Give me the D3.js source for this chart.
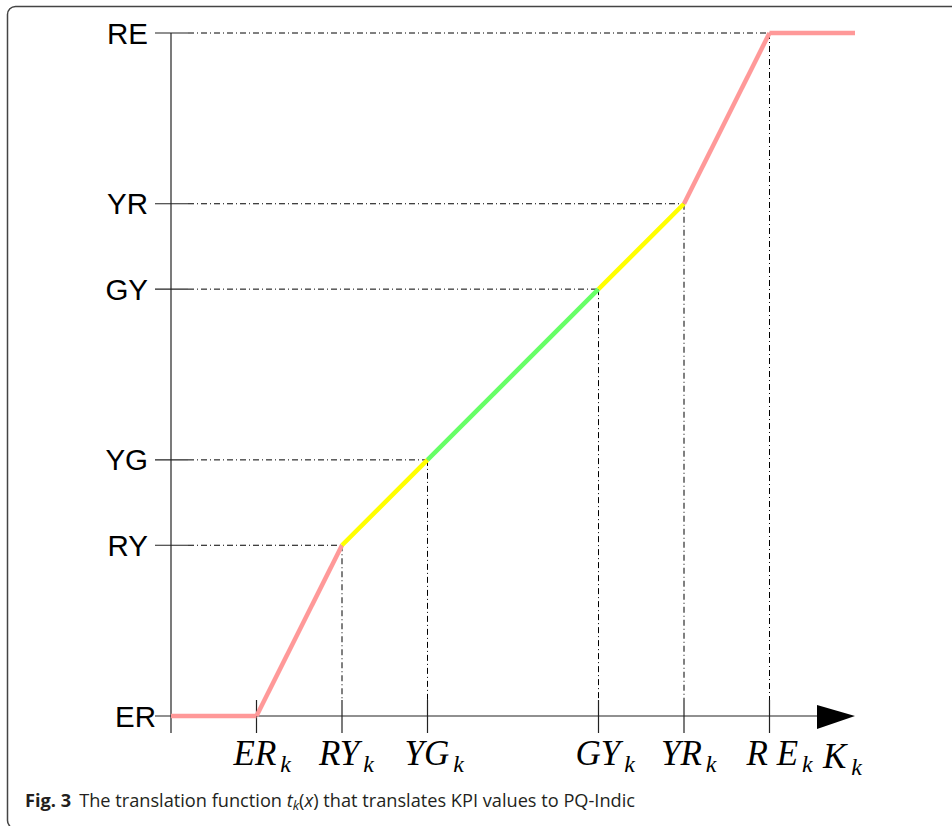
<!DOCTYPE html>
<html>
<head>
<meta charset="utf-8">
<script src="https://cdn.jsdelivr.net/npm/d3@7"></script>
<style>
  body { margin: 0; background: #fff; }
  svg { display: block; }
</style>
</head>
<body>
<div id="chart"></div>
<script>
// breakpoints of t_k(x), in tick units
const xs = [0, 1, 2, 3, 5, 6, 7, 8];
const ys = [0, 0, 2, 3, 5, 6, 8, 8];
const segColors = ["#ff9999", "#ff9999", "#ffff00", "#66ff66", "#ffff00", "#ff9999", "#ff9999"];

const yTickValues = [0, 2, 3, 5, 6, 8];
const yTickLabels = ["ER", "RY", "YG", "GY", "YR", "RE"];
const xTickValues = [1, 2, 3, 5, 6, 7];
const xTickLabels = [["ER", "k"], ["RY", "k"], ["YG", "k"], ["GY", "k"], ["YR", "k"], ["R E", "k"]];

const width = 952, height = 826;

const svg = d3.select("#chart")
  .append("svg")
  .attr("width", width)
  .attr("height", height);

// figure frame (only top/left visible)
svg.append("rect")
  .attr("x", 7.5).attr("y", 6.5)
  .attr("width", 1000).attr("height", 822)
  .attr("rx", 8)
  .attr("fill", "none")
  .attr("stroke", "#444")
  .attr("stroke-width", 1.5);

const x = d3.scaleLinear().domain([0, 8]).range([171, 855]);
const y = d3.scaleLinear().domain([0, 8]).range([716, 33]);

const dash = "6,3,1,3";

// guide lines
yTickValues.forEach((v, i) => {
  if (v === 0) return;
  const px = x(xs[ys.indexOf(v)]);
  svg.append("line")
    .attr("x1", 188).attr("x2", px)
    .attr("y1", y(v)).attr("y2", y(v))
    .attr("stroke", "#000").attr("stroke-width", 1)
    .attr("stroke-dasharray", dash);
});
xTickValues.forEach(v => {
  const py = y(ys[xs.indexOf(v)]);
  svg.append("line")
    .attr("x1", x(v)).attr("x2", x(v))
    .attr("y1", py).attr("y2", 700)
    .attr("stroke", "#000").attr("stroke-width", 1)
    .attr("stroke-dasharray", dash);
});

// axes
svg.append("line")
  .attr("x1", 171).attr("x2", 171)
  .attr("y1", y(8)).attr("y2", 733)
  .attr("stroke", "#222").attr("stroke-width", 1.2);
svg.append("line")
  .attr("x1", 155).attr("x2", 820)
  .attr("y1", y(0)).attr("y2", y(0))
  .attr("stroke", "#222").attr("stroke-width", 1.2);
svg.append("path")
  .attr("d", `M817,705 L855,${y(0)} L817,729 Z`)
  .attr("fill", "#000");

// y ticks + labels
svg.append("g").selectAll("line")
  .data(yTickValues.filter(v => v !== 0))
  .join("line")
  .attr("x1", 155).attr("x2", 188)
  .attr("y1", d => y(d)).attr("y2", d => y(d))
  .attr("stroke", "#222").attr("stroke-width", 1.2);

svg.append("g").selectAll("text")
  .data(yTickValues)
  .join("text")
  .attr("x", d => d === 0 ? 156 : 148)
  .attr("y", d => y(d) + 10.5)
  .attr("text-anchor", "end")
  .attr("font-family", "Liberation Sans, Arial, sans-serif")
  .attr("font-size", 29.5)
  .attr("fill", "#000")
  .text((d, i) => yTickLabels[i]);

// x ticks + labels
svg.append("g").selectAll("line")
  .data(xTickValues)
  .join("line")
  .attr("x1", d => x(d)).attr("x2", d => x(d))
  .attr("y1", 700).attr("y2", 733)
  .attr("stroke", "#222").attr("stroke-width", 1.2);

const xl = svg.append("g").selectAll("text")
  .data(xTickValues)
  .join("text")
  .attr("x", d => x(d) - 23)
  .attr("y", 765)
  .attr("font-family", "Liberation Serif, Times New Roman, serif")
  .attr("font-style", "italic")
  .attr("fill", "#000");
xl.append("tspan")
  .attr("font-size", 35)
  .text((d, i) => xTickLabels[i][0]);
xl.append("tspan")
  .attr("font-size", 24)
  .attr("dx", 4)
  .attr("dy", 7)
  .text((d, i) => xTickLabels[i][1]);

const kl = svg.append("text")
  .attr("x", 823).attr("y", 768)
  .attr("font-family", "Liberation Serif, Times New Roman, serif")
  .attr("font-style", "italic")
  .attr("fill", "#000");
kl.append("tspan").attr("font-size", 35).text("K");
kl.append("tspan").attr("font-size", 24).attr("dx", 5).attr("dy", 7).text("k");

// the curve, segment by segment
const segs = d3.range(xs.length - 1).map(i => ({
  x1: xs[i], y1: ys[i], x2: xs[i + 1], y2: ys[i + 1], color: segColors[i]
}));
svg.append("g").selectAll("line")
  .data(segs)
  .join("line")
  .attr("x1", d => x(d.x1)).attr("y1", d => y(d.y1))
  .attr("x2", d => x(d.x2)).attr("y2", d => y(d.y2))
  .attr("stroke", d => d.color)
  .attr("stroke-width", 4.5);

// caption
const cap = svg.append("text")
  .attr("x", 25).attr("y", 807)
  .attr("font-family", "Open Sans, Noto Sans, sans-serif")
  .attr("font-size", 18.2)
  .attr("fill", "#231f20");
cap.append("tspan").attr("font-weight", "bold").text("Fig. 3");
cap.append("tspan").attr("dx", 8).text("The translation function ");
cap.append("tspan").attr("font-style", "italic").text("t");
cap.append("tspan").attr("font-style", "italic").attr("font-size", 13).attr("dy", 3).text("k");
cap.append("tspan").attr("dy", -3).text("(");
cap.append("tspan").attr("font-style", "italic").text("x");
cap.append("tspan").text(") that translates KPI values to PQ-Indic");
</script>
</body>
</html>
